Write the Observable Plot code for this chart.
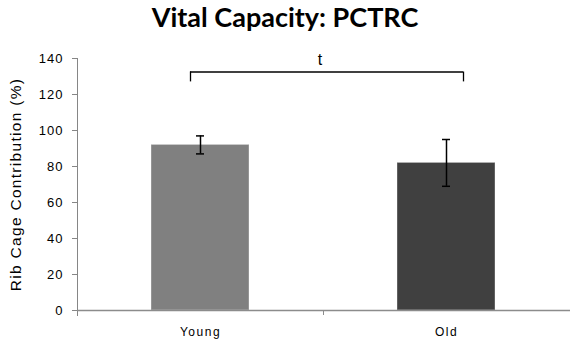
<!DOCTYPE html>
<html>
<head>
<meta charset="utf-8">
<script src="https://cdn.jsdelivr.net/npm/d3@7"></script>
<script src="https://cdn.jsdelivr.net/npm/@observablehq/plot@0.6"></script>
<style>
  body { margin: 0; background: #fff; }
  #title {
    width: 570px; height: 40px; line-height: 40px;
    text-align: center; font: bold 27px Lato, "Open Sans", sans-serif; color: #000;
  }
  #chart g[aria-label="y-axis label"] text { font-size: 15.5px; letter-spacing: 1.3px; }
  #chart g[aria-label="x-axis tick label"] text { letter-spacing: 1.5px; }
  #chart g[aria-label="y-axis tick label"] text { letter-spacing: 1px; }
</style>
</head>
<body>
<div id="title">Vital Capacity: PCTRC</div>
<div id="chart"></div>
<script>
// Group means and standard errors of rib cage contribution (%)
const groups = ["Young", "Old"];
const means = [92, 82];
const errors = [5, 13];
const groupColors = ["#808080", "#404040"];
const yTicks = [0, 20, 40, 60, 80, 100, 120, 140];
const yLabel = "Rib Cage Contribution (%)";

// Significance bracket between the two groups
const sigFrom = "Young";
const sigTo = "Old";
const sigTop = 132.5;
const sigEnd = 127;
const sigLabel = "t";

const rows = groups.map((g, i) => ({
  group: g,
  mean: means[i],
  lo: means[i] - errors[i],
  hi: means[i] + errors[i]
}));
const bracket = [{from: sigFrom, to: sigTo, top: sigTop, end: sigEnd, label: sigLabel}];

const chart = Plot.plot({
  width: 570,
  height: 303,
  marginTop: 18,
  marginBottom: 33,
  marginLeft: 77,
  marginRight: 0,
  style: {fontFamily: "'Liberation Sans', Arial, sans-serif", fontSize: "13px", color: "#000", background: "#fff", overflow: "visible"},
  x: {domain: groups, paddingInner: 0.6, paddingOuter: 0.3},
  y: {domain: [0, 140]},
  color: {domain: groups, range: groupColors},
  marks: [
    Plot.barY(rows, {x: "group", y: "mean", fill: "group", stroke: "#fff", strokeOpacity: 0.35, strokeWidth: 1}),
    // error bars
    Plot.ruleX(rows, {x: "group", y1: "lo", y2: "hi", stroke: "#000", strokeWidth: 1.5}),
    Plot.ruleY(rows, {x1: "group", x2: "group", y: "hi", stroke: "#000", strokeWidth: 1.5, insetLeft: 45, insetRight: 45}),
    Plot.ruleY(rows, {x1: "group", x2: "group", y: "lo", stroke: "#000", strokeWidth: 1.5, insetLeft: 45, insetRight: 45}),
    // bracket
    Plot.ruleY(bracket, {x1: "from", x2: "to", y: "top", stroke: "#000", strokeWidth: 1.3, insetLeft: 39, insetRight: 32}),
    Plot.ruleX(bracket, {x: "from", y1: "end", y2: "top", stroke: "#000", strokeWidth: 1.3, dx: -10}),
    Plot.ruleX(bracket, {x: "to", y1: "end", y2: "top", stroke: "#000", strokeWidth: 1.3, dx: 17}),
    Plot.text(bracket, {y: "top", text: "label", frameAnchor: "middle", lineAnchor: "bottom", dy: -7, dx: -4, fontSize: 16, fill: "#000"}),
    // axes
    Plot.frame({anchor: "left", stroke: "#868686", insetBottom: -5}),
    Plot.ruleY([0], {stroke: "#8c8c8c", strokeWidth: 1.5}),
    Plot.ruleX([sigTo], {x: d => d, y1: 0, y2: 0, dx: -123, insetBottom: -5, stroke: "#8c8c8c"}),
    Plot.axisY({ticks: yTicks, tickSize: 5, tickPadding: 9, stroke: "#868686", fill: "#000", fontSize: 13,
      label: yLabel, labelAnchor: "center", labelOffset: 68, labelArrow: false}),
    Plot.axisX({tickSize: 0, tickPadding: 17, fill: "#000", fontSize: 12, label: null})
  ]
});
document.getElementById("chart").appendChild(chart);
</script>
</body>
</html>
